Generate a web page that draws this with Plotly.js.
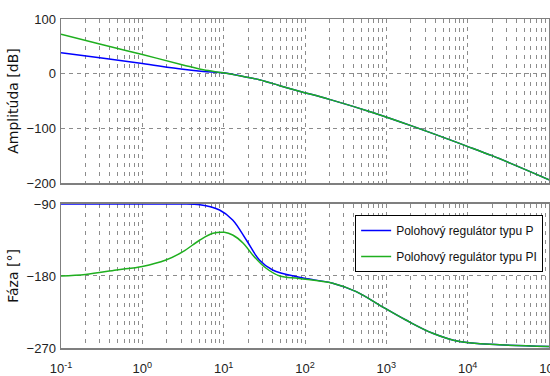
<!DOCTYPE html>
<html>
<head>
<meta charset="utf-8">
<script src="https://cdn.plot.ly/plotly-3.0.1.min.js"></script>
<style>html,body{margin:0;padding:0;background:#fff;}#chart{width:550px;height:376px;}</style>
</head>
<body>
<div id="chart"></div>
<script>
// ---- data ----
var magFreq = [0.1, 0.316, 1, 3.16, 5.62, 10, 15.8, 27.5, 49, 85, 200, 676, 2089, 9550, 19953, 100000];
var magP    = [38.5, 28.5, 18.5, 8, 4, 1.5, -4, -11, -22, -32, -47, -71, -96, -132, -150, -194];
var magPI   = [72, 53.5, 35, 16, 7, 1.5, -4, -11, -22, -32, -47, -71, -96, -132, -150, -194];

var phFreqP = [0.1, 1, 3, 5.1, 8.9, 12.9, 19, 27.5, 40, 85, 219, 427, 813, 1738, 3715, 7943, 24547, 100000];
var phP     = [-90, -90, -90, -91, -97.5, -110, -135, -160, -172.5, -181.6, -189, -199.6, -216, -235, -251.6, -262, -266, -268];
var phFreqPI = [0.1, 0.2, 0.48, 1, 1.95, 3.16, 5.1, 7.4, 10.2, 12.9, 17.4, 22.9, 33, 49, 85, 219, 427, 813, 1738, 3715, 7943, 24547, 100000];
var phPI     = [-180, -178, -172.5, -168, -160, -149.6, -135, -126.6, -125.4, -128.75, -139, -154, -170, -180, -183, -189, -199.6, -216, -235, -251.6, -262, -266, -268];

var seriesNames = ['Polohový regulátor typu P', 'Polohový regulátor typu PI'];
var xTickVals = [0.1, 1, 10, 100, 1000, 10000, 100000];
var xTickText = ['10<sup>-1</sup>', '10<sup>0</sup>', '10<sup>1</sup>', '10<sup>2</sup>', '10<sup>3</sup>', '10<sup>4</sup>', '10<sup>5</sup>'];
var magTicks = [100, 0, -100, -200];
var phTicks = [-90, -180, -270];

// minor grid positions (2..9 per decade)
var minorVals = [];
for (var e = -1; e < 5; e++) {
  for (var m = 2; m <= 9; m++) minorVals.push(m * Math.pow(10, e));
}

var blue = '#0000ff', green = '#1faf1f';
var gridCol = '#8c8c8c', frameCol = '#7f7f7f';
var tickFont = {family: '"Liberation Sans", Arial, sans-serif', size: 13, color: '#222'};

var traces = [
  {x: magFreq, y: magP, type: 'scatter', mode: 'lines', line: {color: blue, width: 1.5, shape: 'spline'}, xaxis: 'x', yaxis: 'y', showlegend: false},
  {x: magFreq, y: magPI, type: 'scatter', mode: 'lines', line: {color: green, width: 1.5, shape: 'spline'}, xaxis: 'x', yaxis: 'y', showlegend: false},
  {x: phFreqP, y: phP, type: 'scatter', mode: 'lines', name: seriesNames[0], legendgroup: 'a', line: {color: blue, width: 1.5, shape: 'spline'}, xaxis: 'x2', yaxis: 'y2'},
  {x: phFreqPI, y: phPI, type: 'scatter', mode: 'lines', name: seriesNames[1], legendgroup: 'b', line: {color: green, width: 1.5, shape: 'spline'}, xaxis: 'x2', yaxis: 'y2'}
];

function xAxis(showLabels, anchor) {
  return {
    type: 'log', range: [-1, 5], anchor: anchor, automargin: false,
    tickmode: 'array', tickvals: xTickVals, ticktext: xTickText,
    showticklabels: showLabels, ticks: '', tickfont: tickFont, ticklabelstandoff: 8,
    ticklabeloverflow: 'allow',
    showgrid: true, gridcolor: gridCol, griddash: '4px,4px', gridwidth: 1,
    minor: {tickmode: 'array', tickvals: minorVals, showgrid: true, gridcolor: gridCol, griddash: '4px,5px', gridwidth: 1, ticks: ''},
    showline: true, mirror: true, linecolor: frameCol, linewidth: 1.5,
    zeroline: false
  };
}
function yAxis(domain, range, ticks, title, anchor) {
  return {
    domain: domain, range: range, anchor: anchor, automargin: false,
    tickmode: 'array', tickvals: ticks, ticks: '', tickfont: tickFont, ticklabelstandoff: 1,
    showgrid: true, gridcolor: gridCol, griddash: '4px,4px', gridwidth: 1,
    showline: true, mirror: true, linecolor: frameCol, linewidth: 1.5,
    zeroline: false,
    title: {text: title, font: {family: '"DejaVu Sans", sans-serif', size: 14, color: '#111'}, standoff: 4}
  };
}

var layout = {
  width: 550, height: 376,
  margin: {l: 61, r: 1, t: 19, b: 28},
  paper_bgcolor: '#fff', plot_bgcolor: '#fff',
  xaxis: Object.assign(xAxis(false, 'y'), {domain: [0, 1]}),
  yaxis: yAxis([0.5015, 1], [-200, 100], magTicks, 'Amplitúda [dB]', 'x'),
  xaxis2: Object.assign(xAxis(true, 'y2'), {domain: [0, 1]}),
  yaxis2: yAxis([0, 0.4377], [-270, -90], phTicks, 'Fáza [°]', 'x2'),
  showlegend: true,
  legend: {
    x: 0.988, y: 0.404, xanchor: 'right', yanchor: 'top',
    bgcolor: '#fff', bordercolor: '#000', borderwidth: 1,
    font: {family: '"Liberation Sans", Arial, sans-serif', size: 12, color: '#111'},
    tracegroupgap: 7
  }
};

Plotly.newPlot('chart', traces, layout, {displayModeBar: false, staticPlot: true});
</script>
</body>
</html>
